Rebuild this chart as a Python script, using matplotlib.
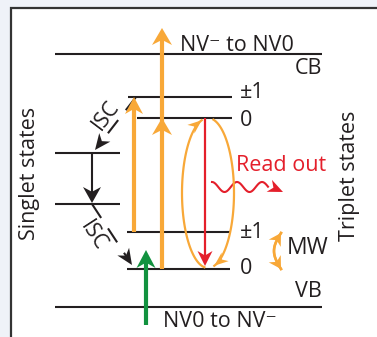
"""NV centre energy diagram: singlet / triplet levels with optical and MW transitions."""

import numpy as np
import matplotlib

matplotlib.use("Agg")

import matplotlib.pyplot as plt
from matplotlib.patches import Polygon, Rectangle

plt.rcParams["font.family"] = ["Open Sans", "DejaVu Sans"]

# energy levels (pixel frame of the original figure, y grows downward)
level_names = ["CB", "S1", "S0", "T1_pm1", "T1_0", "T0_pm1", "T0_0", "VB"]
level_y = [54, 153, 204, 97, 118, 232, 269, 307]
level_x0 = [55, 55, 55, 128, 137, 127, 127, 55]
level_x1 = [322, 120, 120, 232, 232, 230, 230, 322]

spin_labels = ["±1", "0", "±1", "0"]
spin_label_y = [92, 120, 232, 268]

ORANGE = "#f8a838"
RED = "#e41f2b"
GREEN = "#12923f"
INK = "#231f20"
FS = 15.5


def head(ax, tip, direction, length, width, color):
    u = np.asarray(direction, float)
    u = u / np.hypot(*u)
    n = np.array([-u[1], u[0]])
    tip = np.asarray(tip, float)
    pts = [tip, tip - length * u + width / 2 * n, tip - 0.7 * length * u,
           tip - length * u - width / 2 * n]
    ax.add_patch(Polygon(pts, closed=True, color=color, lw=0, zorder=5))


def arrow(ax, start, end, color, lw, length, width, **kw):
    start, end = np.asarray(start, float), np.asarray(end, float)
    u = end - start
    u = u / np.hypot(*u)
    stop = end - 0.6 * length * u
    ax.plot([start[0], stop[0]], [start[1], stop[1]], color=color, lw=lw,
            solid_capstyle="butt", **kw)
    head(ax, end, u, length, width, color)


def curve_arrow(ax, xs, ys, color, lw, length, width):
    ax.plot(xs, ys, color=color, lw=lw)
    head(ax, (xs[-1], ys[-1]), (xs[-1] - xs[-3], ys[-1] - ys[-3]), length, width, color)


fig = plt.figure(figsize=(3.77, 3.37), dpi=100)
fig.patch.set_facecolor("#eff2f8")
ax = fig.add_axes([0, 0, 1, 1])
ax.set_xlim(0, 377)
ax.set_ylim(337, 0)
ax.axis("off")
ax.add_patch(Rectangle((11, 8), 400, 400, facecolor="white", edgecolor="#333333", lw=1.6))

y = dict(zip(level_names, level_y))
for name, ly, x0, x1 in zip(level_names, level_y, level_x0, level_x1):
    ax.plot([x0, x1], [ly, ly], color=INK, lw=1.5, solid_capstyle="butt")

for lab, ly in zip(spin_labels, spin_label_y):
    ax.text(240, ly, lab, fontsize=FS, color=INK, va="center", ha="left")

ax.text(322, 74, "CB", fontsize=FS, color=INK, ha="right", va="baseline")
ax.text(322, 297, "VB", fontsize=FS, color=INK, ha="right", va="baseline")
ax.text(180, 51, "NV⁻ to NV0", fontsize=FS, color=INK, ha="left", va="baseline")
ax.text(163, 327, "NV0 to NV⁻", fontsize=FS, color=INK, ha="left", va="baseline")
ax.text(30, 173, "Singlet states", fontsize=FS, color=INK, rotation=90, ha="center", va="center")
ax.text(349, 176, "Triplet states", fontsize=FS, color=INK, rotation=90, ha="center", va="center")
ax.text(236, 171, "Read out", fontsize=FS, color=RED, ha="left", va="baseline")
ax.text(308, 248, "MW", fontsize=FS + 1, color=INK, ha="center", va="center")

# intersystem crossing (dashed) and singlet decay
dash = dict(dashes=(8, 6))
arrow(ax, (136, y["T1_pm1"]), (95, 150), INK, 1.5, 16, 14, **dash)
arrow(ax, (92, y["S0"]), (132, 265), INK, 1.5, 16, 14, **dash)
ax.text(106, 115, "ISC", fontsize=FS, color=INK, rotation=53, ha="center", va="center")
ax.text(93, 236, "ISC", fontsize=FS, color=INK, rotation=-57, ha="center", va="center")
arrow(ax, (92, y["S1"]), (92, 203), INK, 1.5, 16, 18)

# optical pumping / ionisation
arrow(ax, (134, y["T0_pm1"]), (134, y["T1_pm1"]), ORANGE, 3, 17, 18)
arrow(ax, (162, y["T0_0"]), (162, 28), ORANGE, 3, 17, 20)
head(ax, (162, y["T1_0"]), (0, -1), 17, 20, ORANGE)
arrow(ax, (146, 325), (146, 250), GREEN, 3, 18, 19)

# read-out: fluorescence and spin-conserving cycle
arrow(ax, (205, y["T1_0"]), (205, 266), RED, 1.6, 15, 15)
wx = np.linspace(212, 268, 120)
wy = 187 - 5 * np.cos(2 * np.pi * (wx - 212) / 25)
ax.plot(wx, wy, color=RED, lw=1.5)
head(ax, (283, 192), (1, 0.45), 15, 13, RED)

cx, cy, a, b = 208, 193, 26, 75
t = np.radians(np.linspace(262, 104, 80))
curve_arrow(ax, cx + a * np.cos(t), cy - b * np.sin(t), ORANGE, 1.6, 14, 11)
t = np.radians(np.linspace(78, -76, 80))
curve_arrow(ax, cx + a * np.cos(t), cy - b * np.sin(t), ORANGE, 1.6, 14, 11)

# microwave drive between ms = 0 and ms = ±1
s = np.linspace(0, 1, 40)
mx = 281 - 7 * np.sin(np.pi * s)
my = 233 + 36 * s
curve_arrow(ax, mx, my, ORANGE, 1.8, 12, 14)
curve_arrow(ax, mx[::-1], my[::-1], ORANGE, 1.8, 12, 14)

fig.savefig("out.png", dpi=100, facecolor=fig.get_facecolor())
